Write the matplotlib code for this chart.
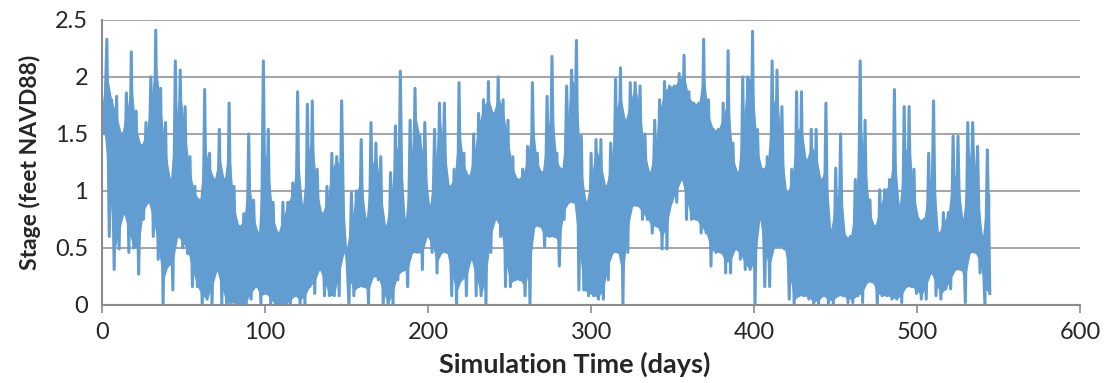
import numpy as np
import matplotlib.pyplot as plt

# envelope of the stage record, every 3 days
highs = [1.75, 2.33, 1.80, 1.83, 1.50, 1.86, 2.22, 1.70, 1.40, 1.60,
         2.00, 2.41, 1.90, 1.60, 1.10, 2.14, 2.06, 1.74, 1.30, 1.04,
         0.92, 1.89, 1.33, 1.10, 1.54, 1.10, 1.77, 1.04, 0.69, 0.80,
         1.50, 0.92, 0.63, 2.14, 1.54, 0.90, 0.63, 0.90, 0.90, 1.07,
         1.87, 0.87, 1.76, 1.79, 1.19, 0.80, 1.04, 1.33, 1.30, 1.79,
         0.50, 0.98, 1.00, 1.45, 0.75, 1.60, 1.42, 1.30, 0.69, 1.16,
         1.57, 2.05, 0.75, 1.62, 1.90, 1.48, 1.60, 0.87, 1.54, 1.77,
         1.77, 1.04, 1.19, 1.95, 1.33, 1.13, 1.50, 1.68, 1.80, 1.96,
         1.68, 2.00, 1.80, 1.62, 1.30, 1.10, 1.19, 1.39, 1.95, 1.33,
         1.16, 1.83, 2.18, 1.33, 1.19, 1.92, 2.06, 2.32, 1.48, 0.90,
         1.33, 1.45, 1.45, 1.04, 1.42, 1.98, 2.08, 1.62, 1.95, 1.95,
         1.92, 1.50, 1.16, 1.62, 1.80, 1.96, 1.92, 1.92, 2.03, 2.19,
         1.87, 1.77, 1.77, 2.33, 1.80, 1.54, 1.54, 1.77, 2.23, 1.42,
         1.16, 2.00, 2.00, 2.40, 1.54, 1.19, 1.30, 2.14, 2.06, 1.74,
         0.98, 1.19, 1.87, 1.87, 1.27, 1.54, 1.54, 1.10, 1.77, 0.66,
         1.20, 1.50, 0.60, 0.60, 1.10, 2.14, 1.62, 0.92, 0.69, 1.01,
         1.01, 1.10, 1.89, 0.87, 1.74, 1.74, 1.19, 0.75, 0.75, 1.33,
         1.79, 0.63, 0.81, 0.81, 1.48, 1.48, 0.75, 1.60, 1.60, 1.39,
         0.60, 1.36]
lows = [1.50, 0.60, 0.31, 0.49, 0.80, 0.46, 0.50, 0.27, 0.75, 0.90,
        0.60, 0.40, 0.01, 0.34, 0.13, 0.60, 0.50, 0.45, 0.16, 0.16,
        0.00, 0.05, 0.00, 0.30, 0.00, 0.00, 0.02, 0.00, 0.00, 0.00,
        0.05, 0.16, 0.00, 0.10, 0.00, 0.00, 0.00, 0.00, 0.00, 0.08,
        0.00, 0.00, 0.16, 0.10, 0.31, 0.08, 0.08, 0.08, 0.08, 0.46,
        0.00, 0.08, 0.16, 0.16, 0.00, 0.25, 0.22, 0.00, 0.00, 0.00,
        0.22, 0.30, 0.16, 0.46, 0.46, 0.31, 0.60, 0.46, 0.28, 0.46,
        0.46, 0.08, 0.00, 0.22, 0.08, 0.40, 0.08, 0.08, 0.00, 0.46,
        0.75, 0.60, 0.16, 0.16, 0.22, 0.22, 0.08, 0.00, 0.69, 0.69,
        0.51, 0.60, 0.60, 0.34, 0.75, 0.90, 0.90, 0.13, 0.13, 0.08,
        0.08, 0.05, 0.05, 0.22, 0.46, 0.46, 0.00, 0.46, 0.87, 0.87,
        0.75, 0.75, 0.63, 0.69, 0.49, 0.49, 0.90, 0.90, 1.10, 0.75,
        0.75, 0.75, 0.63, 0.63, 0.34, 0.46, 0.46, 0.28, 0.28, 0.49,
        0.40, 0.31, 0.31, 0.00, 0.75, 0.16, 0.16, 0.51, 0.51, 0.49,
        0.05, 0.00, 0.08, 0.08, 0.05, 0.00, 0.00, 0.08, 0.00, 0.00,
        0.08, 0.08, 0.02, 0.02, 0.08, 0.02, 0.20, 0.20, 0.00, 0.08,
        0.08, 0.05, 0.05, 0.02, 0.16, 0.16, 0.10, 0.05, 0.05, 0.28,
        0.08, 0.05, 0.14, 0.14, 0.31, 0.31, 0.02, 0.46, 0.46, 0.28,
        0.00, 0.10]
step_days = 3

xticks = [0, 100, 200, 300, 400, 500, 600]
yticks = [0, 0.5, 1, 1.5, 2, 2.5]
ytick_labels = ['0', '0.5', '1', '1.5', '2', '2.5']

# interleave highs and lows into one time series
n = min(len(highs), len(lows))
h = np.array(highs[:n])
l = np.array(lows[:n])
t_high = np.arange(n) * step_days
t_low = t_high + step_days / 2
t = np.empty(2 * n)
stage = np.empty(2 * n)
t[0::2] = t_high
t[1::2] = t_low
stage[0::2] = h
stage[1::2] = l

# filled band: halfway between each tide and what its neighbours all reach,
# so the single spikes of the trace still stand out above and below it
hp = np.pad(h, 1, mode='edge')
lp = np.pad(l, 1, mode='edge')
core_hi = np.minimum(np.minimum(hp[:-2], hp[1:-1]), hp[2:])
core_lo = np.maximum(np.maximum(lp[:-2], lp[1:-1]), lp[2:])
band_hi = np.interp(t, t_high, 0.5 * (h + core_hi))
band_lo = np.minimum(np.interp(t, t_low, 0.5 * (l + core_lo)), band_hi)

plt.rcParams['font.family'] = ['Lato', 'DejaVu Sans']
blue = '#629dd1'
txt = '#262626'

fig = plt.figure(figsize=(11.08, 3.83), dpi=100)
ax = fig.add_axes([0.092, 0.204, 0.883, 0.744])

ax.fill_between(t, band_lo, band_hi, color=blue, lw=0)
ax.plot(t, stage, color=blue, lw=2.2)

ax.set_xlim(0, 600)
ax.set_ylim(0, 2.5)
ax.set_xticks(xticks)
ax.set_yticks(yticks)
ax.set_yticklabels(ytick_labels)
ax.grid(axis='y', color='#a6a6a6', lw=1.5)
ax.set_axisbelow(True)
for s in ['top', 'right']:
    ax.spines[s].set_visible(False)
for s in ['left', 'bottom']:
    ax.spines[s].set_color('#8c8c8c')
    ax.spines[s].set_linewidth(1.5)
ax.tick_params(axis='x', length=6, width=1.2, color='#8c8c8c',
               labelsize=17, labelcolor=txt, pad=6)
ax.tick_params(axis='y', length=0, labelsize=17, labelcolor=txt, pad=10)

ax.set_xlabel('Simulation Time (days)', fontsize=19.5, fontweight='bold',
              color=txt)
ax.xaxis.set_label_coords(0.483, -0.165)
ax.set_ylabel('Stage (feet NAVD88)', fontsize=16.5, fontweight='bold',
              color=txt, labelpad=10)

fig.savefig('out.png', dpi=100)
